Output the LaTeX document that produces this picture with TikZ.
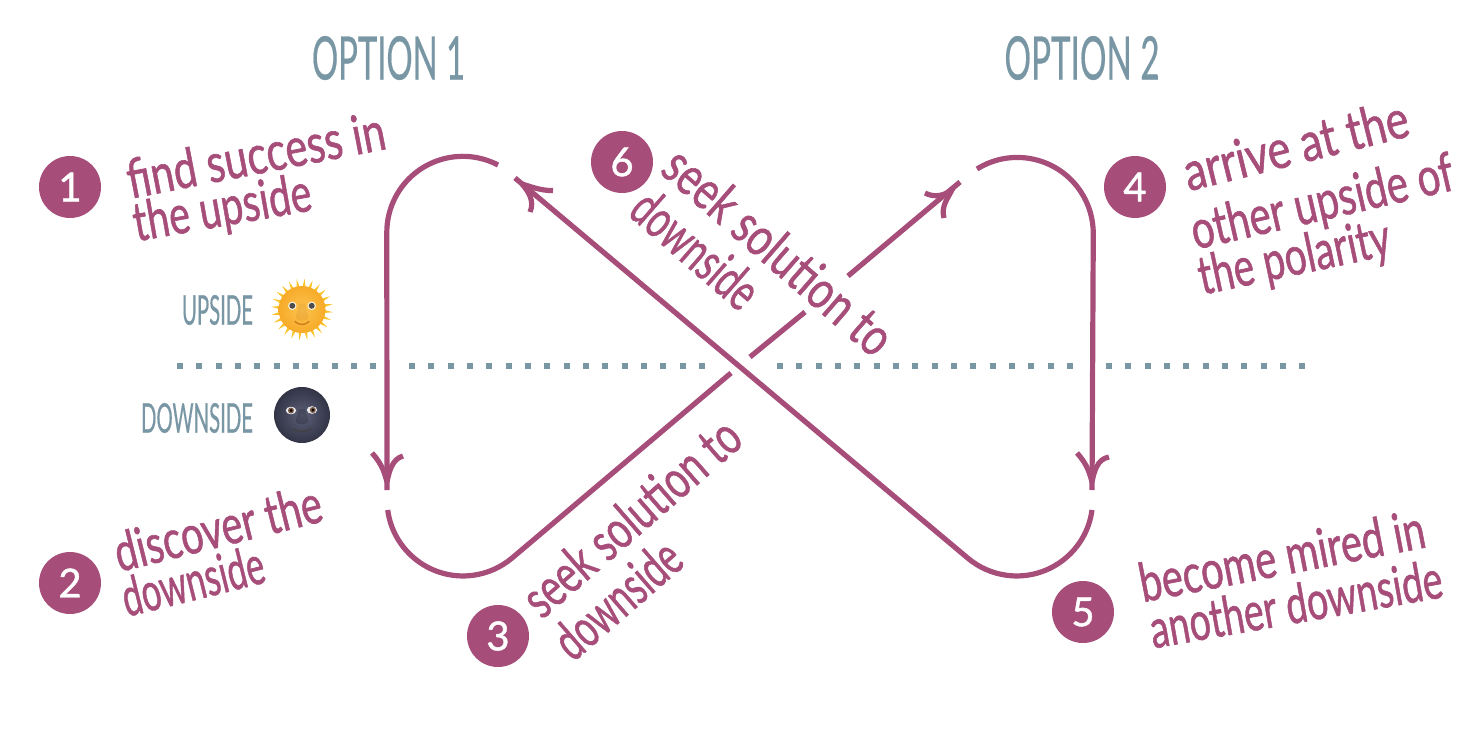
\documentclass[tikz,border=0pt]{standalone}
\usepackage{graphicx}
\usepackage{fontspec}
\setmainfont{Lato}
\newfontfamily\handfont[FakeBold=1.2]{Lato}
\newfontfamily\sidefont[FakeBold=0.6]{Lato}
\definecolor{plum}{HTML}{A64D79}
\definecolor{slate}{HTML}{7896A4}
\definecolor{rayc}{RGB}{250,196,40}
\definecolor{sunin}{RGB}{252,196,80}
\definecolor{sunout}{RGB}{247,170,40}
\definecolor{sunline}{RGB}{205,125,30}
\definecolor{moonin}{RGB}{92,96,120}
\definecolor{moonout}{RGB}{50,52,70}
\definecolor{mooneye}{RGB}{120,90,70}
\newcommand{\fit}[2]{\resizebox{#1pt}{\height}{#2}}
\tikzset{
  loopline/.style={draw=plum,line width=5.2pt},
  barb/.style={draw=plum,line width=5.2pt},
  dotline/.style={draw=slate,line width=6pt,dash pattern=on 6pt off 13.33pt},
  badge/.style={circle,fill=plum,draw=none,minimum size=62pt,inner sep=0pt,text=white,font=\handfont\fontsize{40}{40}\selectfont},
  hand/.style={text=plum,inner sep=0pt,anchor=center,text height=36pt,text depth=0pt,font=\handfont\fontsize{54}{54}\selectfont},
  title/.style={text=slate,inner sep=0pt,font=\sidefont\fontsize{60}{60}\selectfont},
  side/.style={text=slate,inner sep=0pt,font=\sidefont\fontsize{41}{41}\selectfont},
}
\begin{document}
\begin{tikzpicture}[x=1pt,y=-1pt]
\useasboundingbox (0,0) rectangle (1480,730);
% dotted midline
\draw[dotline] (177,366) -- (376,366);
\draw[dotline] (409,366) -- (706,366);
\draw[dotline] (777,366) -- (1074,366);
\draw[dotline] (1106,366) -- (1306,366);
% named ends
\coordinate (topL) at (498,165);
\coordinate (tipL) at (387,490);
\coordinate (botL) at (387.7,510);
\coordinate (crossA) at (731,373);
\coordinate (crossB) at (750,357);
\coordinate (gapA) at (805,312);
\coordinate (gapB) at (848,276);
\coordinate (tipR) at (960,182);
\coordinate (topR) at (977,169);
\coordinate (tipD) at (1092,490);
\coordinate (botR) at (1092,510);
\coordinate (tipU) at (515,178);
% left loop
\draw[loopline] (topL) arc[start angle=62.4,end angle=180,radius=76pt] -- (tipL);
\draw[barb] (tipL) ++(0,-8) .. controls (385,475) and (383,465) .. (372,453);
\draw[barb] (tipL) ++(0,-8) .. controls (389,472) and (392,459) .. (403,456);
% rising line
\draw[loopline] (botL) arc[start angle=187.6,end angle=310,radius=76pt] -- (crossA);
\draw[loopline] (crossB) -- (gapA);
\draw[loopline] (gapB) -- (tipR);
\draw[barb] (tipR) ++(-7,6) .. controls (946,196) and (934,198) .. (925,193);
\draw[barb] (tipR) ++(-7,6) .. controls (947,200) and (941,206) .. (944,218);
% right loop
\draw[loopline] (topR) arc[start angle=122,end angle=0,radius=76pt] -- (tipD);
\draw[barb] (tipD) ++(0,-8) .. controls (1090,475) and (1088,465) .. (1077,453);
\draw[barb] (tipD) ++(0,-8) .. controls (1094,472) and (1097,459) .. (1109,457);
% falling line
\draw[loopline] (botR) arc[start angle=-7.6,end angle=-130,radius=76pt] -- (tipU);
\draw[barb] (tipU) ++(7,6) .. controls (529,186) and (541,191) .. (553,190.5);
\draw[barb] (tipU) ++(7,6) .. controls (528,191) and (535,201) .. (530,212);
% titles
\node[title] (opt1) at (388.5,58) {\fit{153}{OPTION 1}};
\node[title] (opt2) at (1082,58) {\fit{155}{OPTION 2}};
% side labels
\node[side] (up) at (217.5,310) {\fit{71}{UPSIDE}};
\node[side] (down) at (197,418) {\fit{112}{DOWNSIDE}};
% sun
\begin{scope}[shift={(302,309.5)}]
\foreach \a in {0,15,...,345}
  \fill[rayc] (\a:21) -- (\a+10:21) -- (\a+5:31) -- cycle;
\shade[inner color=sunin,outer color=sunout] (0,0) circle (23.5);
\fill[sunline,opacity=.2] (-3,-6) .. controls (-4,2) and (-7,6) .. (-6,9) .. controls (-3,12) and (3,12) .. (6,9) .. controls (7,6) and (4,2) .. (3,-6) -- cycle;
\fill[white!85!sunin] (-9.7,-3.7) circle (4.2); \fill[white!85!sunin] (9.7,-3.7) circle (4.2);
\fill[black!70] (-9.7,-3.7) circle (3); \fill[black!70] (9.7,-3.7) circle (3);
\draw[sunline,line width=1.4pt,line cap=round] (-7,12) .. controls (-3,16) and (3,16) .. (7,12);
\end{scope}
% moon
\begin{scope}[shift={(302,415)}]
\shade[inner color=moonin,outer color=moonout] (0,0) circle (28);
\fill[black,opacity=.18] (-3,-6) .. controls (-4,1) and (-7,4) .. (-6,7) .. controls (-3,10) and (3,10) .. (6,7) .. controls (7,4) and (4,1) .. (3,-6) -- cycle;
\fill[white!92!black] (-11,-4.5) ellipse (5.2 and 3.8); \fill[white!92!black] (10,-5) ellipse (5.2 and 3.8);
\fill[mooneye] (-11,-4.5) circle (3); \fill[mooneye] (10.8,-5) circle (3);
\fill[black] (-11,-4.5) circle (1.5); \fill[black] (10.8,-5) circle (1.5);
\draw[black!75,line width=1.3pt,line cap=round] (-9,14) .. controls (-3,17.5) and (3,17.5) .. (9,14);
\end{scope}
% badges
\node[badge] (n1) at (70,187) {1};
\node[badge] (n2) at (70,583) {2};
\node[badge] (n3) at (498,636) {3};
\node[badge] (n4) at (1135,187) {4};
\node[badge] (n5) at (1083,612) {5};
\node[badge] (n6) at (622,162) {6};
% handwriting
\node[hand,rotate=11] (t1a) at (256,156) {\fit{262}{find success in}};
\node[hand,rotate=10] (t1b) at (222,208) {\fit{180}{the upside}};
\node[hand,rotate=14] (t2a) at (218,529) {\fit{212}{discover the}};
\node[hand,rotate=14] (t2b) at (193,582) {\fit{145}{downside}};
\node[hand,rotate=41] (t3a) at (632,518) {\fit{270}{seek solution to}};
\node[hand,rotate=41] (t3b) at (618,600) {\fit{150}{downside}};
\node[hand,rotate=14] (t4a) at (1296,146) {\fit{230}{arrive at the}};
\node[hand,rotate=13] (t4b) at (1322,202) {\fit{268}{other upside of}};
\node[hand,rotate=12] (t4c) at (1294,257) {\fit{195}{the polarity}};
\node[hand,rotate=11] (t5a) at (1282,557) {\fit{290}{become mired in}};
\node[hand,rotate=10] (t5b) at (1296,605) {\fit{296}{another downside}};
\node[hand,rotate=-41] (t6a) at (778,252) {\fit{285}{seek solution to}};
\node[hand,rotate=-41] (t6b) at (695,250) {\fit{150}{downside}};
\end{tikzpicture}
\end{document}
